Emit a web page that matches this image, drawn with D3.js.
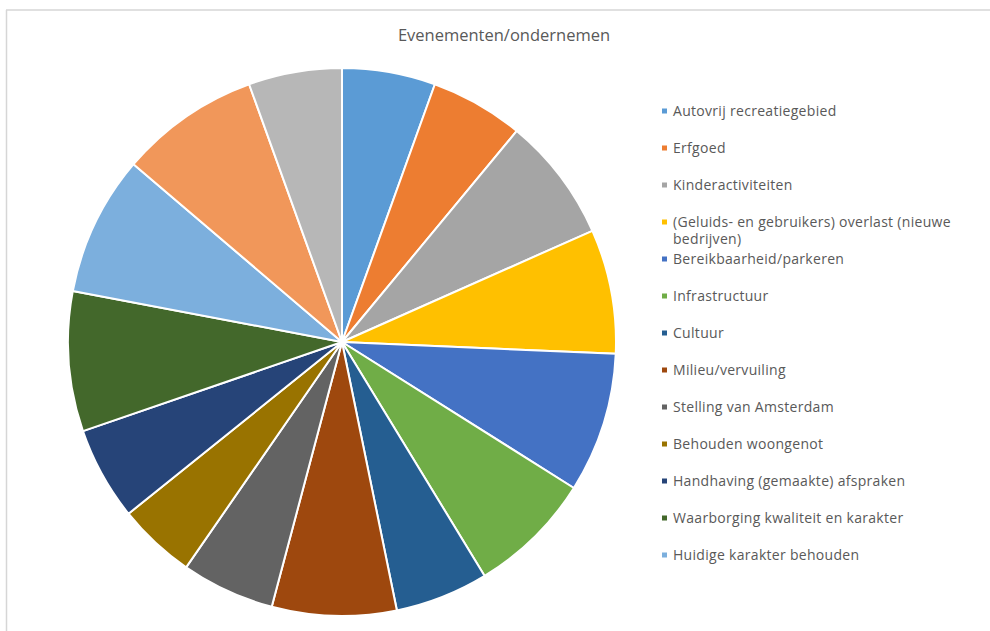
<!DOCTYPE html>
<html>
<head>
<meta charset="utf-8">
<script src="https://cdn.jsdelivr.net/npm/d3@7"></script>
<style>
  body { margin: 0; background: #fff; }
  svg { display: block; }
</style>
</head>
<body>
<div class="viz"></div>
<script>
const title = "Evenementen/ondernemen";

// categories in slice order (clockwise from 12 o'clock); last two are not visible in the legend
const categories = [
  "Autovrij recreatiegebied",
  "Erfgoed",
  "Kinderactiviteiten",
  "(Geluids- en gebruikers) overlast (nieuwe bedrijven)",
  "Bereikbaarheid/parkeren",
  "Infrastructuur",
  "Cultuur",
  "Milieu/vervuiling",
  "Stelling van Amsterdam",
  "Behouden woongenot",
  "Handhaving  (gemaakte) afspraken",
  "Waarborging kwaliteit en karakter",
  "Huidige karakter behouden",
  "Overig 1",
  "Overig 2"
];

const values = [6, 6, 8, 8, 9, 8, 6, 8, 6, 5, 6, 9, 9, 9, 6];

const colors = [
  "#5b9bd5", "#ed7d31", "#a5a5a5", "#ffc000", "#4472c4", "#70ad47",
  "#255e91", "#9e480e", "#636363", "#997300", "#264478", "#43682b",
  "#7cafdd", "#f1975a", "#b7b7b7"
];

// legend shows first 13 entries (the rest is cut off in the original)
const legendCount = 13;
const legendLines = {
  3: ["(Geluids- en gebruikers) overlast (nieuwe", "bedrijven)"]
};

const width = 990, height = 631;
const cx = 342, cy = 342, radius = 274;
const font = "'Open Sans', 'Liberation Sans', sans-serif";

const svg = d3.select(".viz").append("svg")
  .attr("width", width)
  .attr("height", height);

// chart frame (top and left edges visible)
svg.append("line")
  .attr("x1", 6).attr("y1", 10).attr("x2", width).attr("y2", 10)
  .attr("stroke", "#d6d6d6").attr("stroke-width", 1.5);
svg.append("line")
  .attr("x1", 6.5).attr("y1", 10).attr("x2", 6.5).attr("y2", height)
  .attr("stroke", "#d6d6d6").attr("stroke-width", 1.5);

svg.append("text")
  .attr("x", 504)
  .attr("y", 41)
  .attr("text-anchor", "middle")
  .style("font-family", font)
  .style("font-size", "16.5px")
  .style("fill", "#595959")
  .text(title);

const pie = d3.pie().sort(null).value(d => d);
const arc = d3.arc().innerRadius(0).outerRadius(radius);

const g = svg.append("g")
  .attr("transform", `translate(${cx},${cy})`);

g.selectAll("path")
  .data(pie(values))
  .enter().append("path")
  .attr("d", arc)
  .attr("fill", (d, i) => colors[i])
  .attr("stroke", "#fff")
  .attr("stroke-width", 2)
  .attr("stroke-linejoin", "round");

// legend
const legendX = 662, legendY0 = 111, legendStep = 37;
const legend = svg.append("g");

const items = legend.selectAll("g")
  .data(categories.slice(0, legendCount))
  .enter().append("g")
  .attr("transform", (d, i) => `translate(${legendX},${legendY0 + i * legendStep})`);

items.append("rect")
  .attr("x", 0).attr("y", -2.5)
  .attr("width", 5).attr("height", 5)
  .attr("fill", (d, i) => colors[i]);

items.append("text")
  .attr("x", 11)
  .attr("y", 4.5)
  .style("font-family", font)
  .style("font-size", "14px")
  .style("letter-spacing", "0.3px")
  .style("fill", "#595959")
  .each(function (d, i) {
    const lines = legendLines[i] || [d];
    d3.select(this).selectAll("tspan")
      .data(lines)
      .enter().append("tspan")
      .attr("x", 11)
      .attr("dy", (l, j) => j === 0 ? 0 : 17.5)
      .text(l => l);
  });
</script>
</body>
</html>
